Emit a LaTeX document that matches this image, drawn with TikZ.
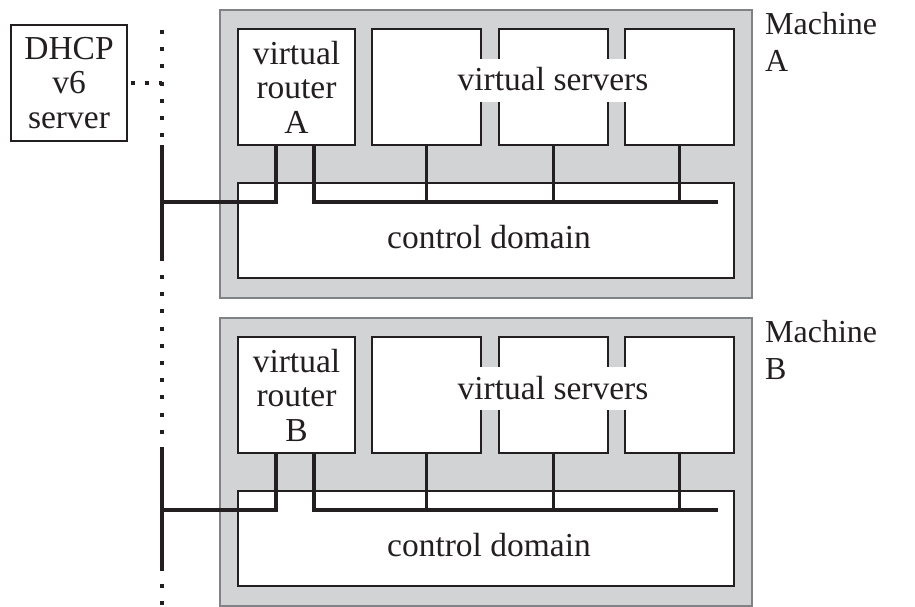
\documentclass[tikz,border=0pt]{standalone}
\usepackage{fontspec}
\setmainfont{Liberation Serif}
\usetikzlibrary{calc}
\definecolor{ink}{HTML}{231F20}
\definecolor{hostgray}{HTML}{D1D3D4}
\definecolor{hostedge}{HTML}{808285}
\begin{document}
\begin{tikzpicture}[x=1pt,y=-1pt,
  every node/.style={font=\fontsize{33.5}{34.5}\selectfont, text=ink},
  host/.style={draw=hostedge, line width=1.2pt, fill=hostgray, inner sep=0pt},
  vmbox/.style={draw=ink, line width=2pt, fill=white, inner sep=0pt,
    align=center, minimum height=116pt},
  patch/.style={fill=white, inner xsep=4pt, inner ysep=11pt,
    text height=21pt, text depth=0pt},
  hostlabel/.style={anchor=north west, align=left, inner sep=0pt,
    font=\fontsize{32}{37}\selectfont},
  bus/.style={draw=ink, line width=3.5pt, miter limit=10},
  dots/.style={draw=ink, line width=4pt, dash pattern=on 4pt off 13.2pt},
  hdots/.style={draw=ink, line width=4pt, dash pattern=on 4pt off 10pt}]
\useasboundingbox (0,0) rectangle (915,607);

% one physical host per row
\foreach \m/\dy in {A/0,B/308}{
  \node[host, minimum width=532pt, minimum height=288pt] (host\m) at (486,154+\dy) {};
  \node[vmbox, minimum width=117pt] (r\m) at (296.5,87+\dy) {virtual\\router\\\m};
  \node[vmbox, minimum width=109pt] (s\m1) at (426.5,87+\dy) {};
  \node[vmbox, minimum width=109pt] (s\m2) at (553.5,87+\dy) {};
  \node[vmbox, minimum width=109pt] (s\m3) at (679.5,87+\dy) {};
  \node[patch] (vs\m) at (553,80.5+\dy) {virtual servers};
  \node[vmbox, minimum width=496pt, minimum height=95pt] (cd\m) at (486,230.5+\dy) {};
  \node (cdl\m) at (489,237+\dy) {control domain};
  \node[hostlabel] (lbl\m) at (765,12+\dy) {Machine\\\m};
  % internal bridge and uplink of the router
  \coordinate (bus\m) at (718,202+\dy);
  \coordinate (tap\m) at (162,202+\dy);
  \draw[bus] ($(r\m.south west)+(77,0)$) |- (bus\m);
  \draw[bus] ($(r\m.south west)+(39,0)$) |- (tap\m);
  \foreach \k in {1,2,3}
    \draw[bus] (s\m\k.south) -- (s\m\k.south |- bus\m);
}

% shared network segment
\coordinate (netA1) at (162,145);
\coordinate (netA2) at (162,261);
\coordinate (netB1) at (162,447);
\coordinate (netB2) at (162,571);
\coordinate (netTop) at (162,30);
\coordinate (netTopEnd) at (162,137);
\coordinate (netMid) at (162,275);
\coordinate (netMidEnd) at (162,436);
\coordinate (netBot) at (162,584);
\coordinate (netBotEnd) at (162,607);
\coordinate (netDhcp) at (162,83);
\draw[bus] (netA1) -- (netA2);
\draw[bus] (netB1) -- (netB2);
\draw[dots] (netTop) -- (netTopEnd);
\draw[dots] (netMid) -- (netMidEnd);
\draw[dots] (netBot) -- (netBotEnd);

% DHCPv6 server on the segment
\node[vmbox, minimum width=116pt] (dhcp) at (69,83) {DHCP\\v6\\server};
\draw[hdots] ($(dhcp.east)+(2.7,0)$) -- (netDhcp);
\end{tikzpicture}
\end{document}
